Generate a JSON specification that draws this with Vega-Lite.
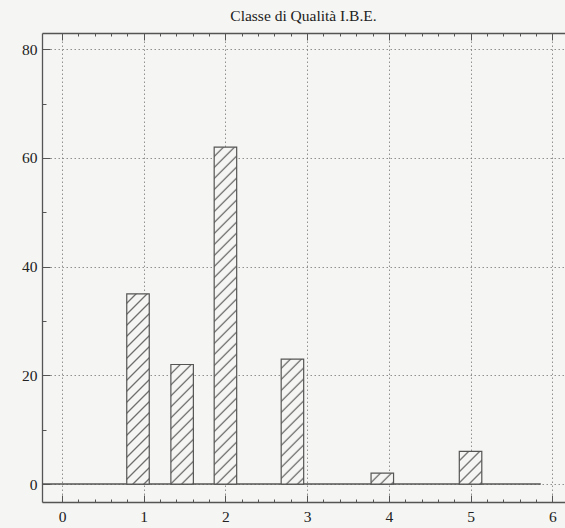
{
  "$schema": "https://vega.github.io/schema/vega-lite/v6.json",
  "autosize": "none",
  "width": 523,
  "height": 469,
  "padding": {"left": 42, "top": 33, "right": 0, "bottom": 26},
  "background": "#f5f5f3",
  "config": {"view": {"stroke": null}, "font": "Liberation Serif"},
  "title": {"text": "Classe di Qualità I.B.E.", "font": "Liberation Serif", "fontSize": 15.5, "fontWeight": "normal", "color": "#222", "anchor": "middle", "baseline": "alphabetic", "offset": -4},
  "params": [
    {"name": "hatch", "value": [
      {"offset":0,"color":"#f5f5f3"},{"offset":0.017,"color":"#f5f5f3"},{"offset":0.0215,"color":"#6a6a6a"},
      {"offset":0.025,"color":"#f5f5f3"},{"offset":0.042,"color":"#f5f5f3"},{"offset":0.0465,"color":"#6a6a6a"},
      {"offset":0.05,"color":"#f5f5f3"},{"offset":0.067,"color":"#f5f5f3"},{"offset":0.0715,"color":"#6a6a6a"},
      {"offset":0.075,"color":"#f5f5f3"},{"offset":0.092,"color":"#f5f5f3"},{"offset":0.0965,"color":"#6a6a6a"},
      {"offset":0.1,"color":"#f5f5f3"},{"offset":0.117,"color":"#f5f5f3"},{"offset":0.1215,"color":"#6a6a6a"},
      {"offset":0.125,"color":"#f5f5f3"},{"offset":0.142,"color":"#f5f5f3"},{"offset":0.1465,"color":"#6a6a6a"},
      {"offset":0.15,"color":"#f5f5f3"},{"offset":0.167,"color":"#f5f5f3"},{"offset":0.1715,"color":"#6a6a6a"},
      {"offset":0.175,"color":"#f5f5f3"},{"offset":0.192,"color":"#f5f5f3"},{"offset":0.1965,"color":"#6a6a6a"},
      {"offset":0.2,"color":"#f5f5f3"},{"offset":0.217,"color":"#f5f5f3"},{"offset":0.2215,"color":"#6a6a6a"},
      {"offset":0.225,"color":"#f5f5f3"},{"offset":0.242,"color":"#f5f5f3"},{"offset":0.2465,"color":"#6a6a6a"},
      {"offset":0.25,"color":"#f5f5f3"},{"offset":0.267,"color":"#f5f5f3"},{"offset":0.2715,"color":"#6a6a6a"},
      {"offset":0.275,"color":"#f5f5f3"},{"offset":0.292,"color":"#f5f5f3"},{"offset":0.2965,"color":"#6a6a6a"},
      {"offset":0.3,"color":"#f5f5f3"},{"offset":0.317,"color":"#f5f5f3"},{"offset":0.3215,"color":"#6a6a6a"},
      {"offset":0.325,"color":"#f5f5f3"},{"offset":0.342,"color":"#f5f5f3"},{"offset":0.3465,"color":"#6a6a6a"},
      {"offset":0.35,"color":"#f5f5f3"},{"offset":0.367,"color":"#f5f5f3"},{"offset":0.3715,"color":"#6a6a6a"},
      {"offset":0.375,"color":"#f5f5f3"},{"offset":0.392,"color":"#f5f5f3"},{"offset":0.3965,"color":"#6a6a6a"},
      {"offset":0.4,"color":"#f5f5f3"},{"offset":0.417,"color":"#f5f5f3"},{"offset":0.4215,"color":"#6a6a6a"},
      {"offset":0.425,"color":"#f5f5f3"},{"offset":0.442,"color":"#f5f5f3"},{"offset":0.4465,"color":"#6a6a6a"},
      {"offset":0.45,"color":"#f5f5f3"},{"offset":0.467,"color":"#f5f5f3"},{"offset":0.4715,"color":"#6a6a6a"},
      {"offset":0.475,"color":"#f5f5f3"},{"offset":0.492,"color":"#f5f5f3"},{"offset":0.4965,"color":"#6a6a6a"},
      {"offset":0.5,"color":"#f5f5f3"},{"offset":0.517,"color":"#f5f5f3"},{"offset":0.5215,"color":"#6a6a6a"},
      {"offset":0.525,"color":"#f5f5f3"},{"offset":0.542,"color":"#f5f5f3"},{"offset":0.5465,"color":"#6a6a6a"},
      {"offset":0.55,"color":"#f5f5f3"},{"offset":0.567,"color":"#f5f5f3"},{"offset":0.5715,"color":"#6a6a6a"},
      {"offset":0.575,"color":"#f5f5f3"},{"offset":0.592,"color":"#f5f5f3"},{"offset":0.5965,"color":"#6a6a6a"},
      {"offset":0.6,"color":"#f5f5f3"},{"offset":0.617,"color":"#f5f5f3"},{"offset":0.6215,"color":"#6a6a6a"},
      {"offset":0.625,"color":"#f5f5f3"},{"offset":0.642,"color":"#f5f5f3"},{"offset":0.6465,"color":"#6a6a6a"},
      {"offset":0.65,"color":"#f5f5f3"},{"offset":0.667,"color":"#f5f5f3"},{"offset":0.6715,"color":"#6a6a6a"},
      {"offset":0.675,"color":"#f5f5f3"},{"offset":0.692,"color":"#f5f5f3"},{"offset":0.6965,"color":"#6a6a6a"},
      {"offset":0.7,"color":"#f5f5f3"},{"offset":0.717,"color":"#f5f5f3"},{"offset":0.7215,"color":"#6a6a6a"},
      {"offset":0.725,"color":"#f5f5f3"},{"offset":0.742,"color":"#f5f5f3"},{"offset":0.7465,"color":"#6a6a6a"},
      {"offset":0.75,"color":"#f5f5f3"},{"offset":0.767,"color":"#f5f5f3"},{"offset":0.7715,"color":"#6a6a6a"},
      {"offset":0.775,"color":"#f5f5f3"},{"offset":0.792,"color":"#f5f5f3"},{"offset":0.7965,"color":"#6a6a6a"},
      {"offset":0.8,"color":"#f5f5f3"},{"offset":0.817,"color":"#f5f5f3"},{"offset":0.8215,"color":"#6a6a6a"},
      {"offset":0.825,"color":"#f5f5f3"},{"offset":1,"color":"#f5f5f3"}
    ]}
  ],
  "data": {"values": [
    {"classe": 0.93, "n": 35},
    {"classe": 1.47, "n": 22},
    {"classe": 2.0, "n": 62},
    {"classe": 2.82, "n": 23},
    {"classe": 3.92, "n": 2},
    {"classe": 5.0, "n": 6}
  ]},
  "layer": [
    {
      "data": {"values": [{}]},
      "mark": {"type": "rule", "color": "#555", "strokeWidth": 1.6},
      "encoding": {
        "x": {"datum": -0.245, "type": "quantitative",
          "scale": {"domain": [-0.245, 6.156], "nice": false, "zero": false, "padding": 0},
          "axis": {"orient": "top", "title": null, "labels": false, "grid": false,
            "domain": true, "domainColor": "#555", "domainWidth": 1.3,
            "values": [0,0.2,0.4,0.6,0.8,1,1.2,1.4,1.6,1.8,2,2.2,2.4,2.6,2.8,3,3.2,3.4,3.6,3.8,4,4.2,4.4,4.6,4.8,5,5.2,5.4,5.6,5.8,6],
            "tickColor": "#555", "tickWidth": 1,
            "tickSize": {"condition": {"test": "datum.value % 1 === 0", "value": -7}, "value": -3}}},
        "x2": {"datum": 5.86},
        "y": {"datum": 0, "type": "quantitative", "scale": {"domain": [-3.3, 83], "nice": false, "zero": false}}
      }
    },
    {
      "encoding": {
        "x": {"field": "classe", "type": "quantitative",
          "scale": {"domain": [-0.245, 6.156], "nice": false, "zero": false, "padding": 0},
          "axis": {"orient": "bottom", "title": null, "grid": true,
            "gridColor": "#777", "gridDash": [1.5, 2.5], "gridWidth": 0.8,
            "gridOpacity": {"condition": {"test": "datum.value % 1 === 0", "value": 1}, "value": 0},
            "domain": true, "domainColor": "#555", "domainWidth": 1.3,
            "values": [0,0.2,0.4,0.6,0.8,1,1.2,1.4,1.6,1.8,2,2.2,2.4,2.6,2.8,3,3.2,3.4,3.6,3.8,4,4.2,4.4,4.6,4.8,5,5.2,5.4,5.6,5.8,6],
            "labelExpr": "datum.value % 1 === 0 ? format(datum.value, 'd') : ''",
            "labelFont": "Liberation Serif", "labelFontSize": 15.5, "labelColor": "#222",
            "labelPadding": 14, "labelFlush": false, "labelOverlap": false,
            "tickColor": "#555", "tickWidth": 1,
            "tickSize": {"condition": {"test": "datum.value % 1 === 0", "value": -7}, "value": -3}}},
        "y": {"field": "n", "type": "quantitative",
          "scale": {"domain": [-3.3, 83], "nice": false, "zero": false},
          "axis": {"title": null, "grid": true,
            "gridColor": "#777", "gridDash": [1.5, 2.5], "gridWidth": 0.8,
            "gridOpacity": {"condition": {"test": "datum.value % 20 === 0", "value": 1}, "value": 0},
            "domain": true, "domainColor": "#555", "domainWidth": 1.3,
            "values": [0,5,10,15,20,25,30,35,40,45,50,55,60,65,70,75,80],
            "labelExpr": "datum.value % 20 === 0 ? datum.label : ''",
            "labelFont": "Liberation Serif", "labelFontSize": 15.5, "labelColor": "#222",
            "labelPadding": 13, "labelFlush": false, "labelOverlap": false,
            "tickColor": "#555", "tickWidth": 1,
            "tickSize": {"condition": {"test": "datum.value % 20 === 0", "value": -8}, "value": -4}}},
        "y2": {"datum": 0}
      },
      "layer": [
        {"transform": [{"filter": "datum.n == 35"}],
         "mark": {"type": "bar", "width": 22.5, "stroke": "#555", "strokeWidth": 1.2,
           "fill": {"expr": "{gradient: 'linear', x1: 0, y1: 0, x2: 0.2699, y2: 2.2814, stops: hatch}"}}},
        {"transform": [{"filter": "datum.n == 22"}],
         "mark": {"type": "bar", "width": 22.5, "stroke": "#555", "strokeWidth": 1.2,
           "fill": {"expr": "{gradient: 'linear', x1: 0, y1: 0, x2: 0.6685, y2: 3.5533, stops: hatch}"}}},
        {"transform": [{"filter": "datum.n == 62"}],
         "mark": {"type": "bar", "width": 22.5, "stroke": "#555", "strokeWidth": 1.2,
           "fill": {"expr": "{gradient: 'linear', x1: 0, y1: 0, x2: 0.08684, y2: 1.3002, stops: hatch}"}}},
        {"transform": [{"filter": "datum.n == 23"}],
         "mark": {"type": "bar", "width": 22.5, "stroke": "#555", "strokeWidth": 1.2,
           "fill": {"expr": "{gradient: 'linear', x1: 0, y1: 0, x2: 0.6137, y2: 3.4096, stops: hatch}"}}},
        {"transform": [{"filter": "datum.n == 2"}],
         "mark": {"type": "bar", "width": 22.5, "stroke": "#555", "strokeWidth": 1.2,
           "fill": {"expr": "{gradient: 'linear', x1: 0, y1: 0, x2: 15.855, y2: 7.660, stops: hatch}"}}},
        {"transform": [{"filter": "datum.n == 6"}],
         "mark": {"type": "bar", "width": 22.5, "stroke": "#555", "strokeWidth": 1.2,
           "fill": {"expr": "{gradient: 'linear', x1: 0, y1: 0, x2: 6.310, y2: 9.142, stops: hatch}"}}}
      ]
    }
  ],
  "resolve": {"axis": {"x": "independent"}}
}
